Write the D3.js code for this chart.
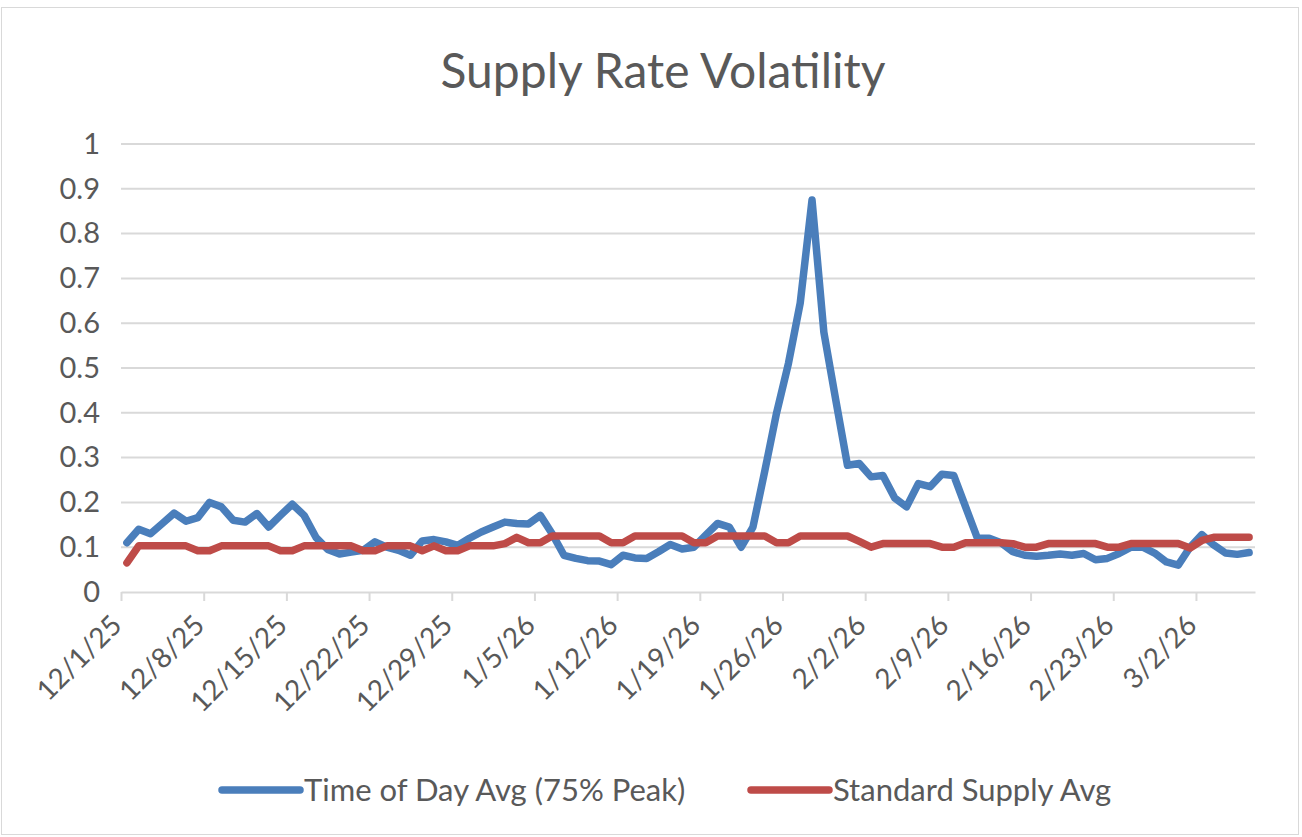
<!DOCTYPE html>
<html>
<head>
<meta charset="UTF-8">
<title>Supply Rate Volatility</title>
<style>
    body { margin: 0; background: #fff; }
    text { font-family: Lato, "Open Sans", sans-serif; fill: #595959; }
    .grid line { stroke: #d9d9d9; stroke-width: 2px; }
    .series { fill: none; stroke-width: 7.5px; stroke-linejoin: round; stroke-linecap: round; }
</style>
</head>
<body>
<svg id="chart" width="1302" height="837"></svg>
<script src="https://cdn.jsdelivr.net/npm/d3@7"></script>
<script>
    // one value per day, 12/1/25 .. 3/6/26
    var startDay = new Date(Date.UTC(2025, 11, 1)),
        endDay = new Date(Date.UTC(2026, 2, 7));

    var timeOfDayAvg = [
        0.11, 0.14, 0.13, 0.153, 0.176, 0.158, 0.166, 0.2, 0.19, 0.16,
        0.156, 0.175, 0.145, 0.171, 0.196, 0.171, 0.122, 0.095, 0.085, 0.089,
        0.093, 0.112, 0.1, 0.093, 0.082, 0.114, 0.117, 0.112, 0.104, 0.12,
        0.134, 0.145, 0.156, 0.153, 0.152, 0.171, 0.13, 0.082, 0.075, 0.07,
        0.069, 0.061, 0.082, 0.076, 0.075, 0.09, 0.106, 0.096, 0.1, 0.127,
        0.153, 0.145, 0.1, 0.145, 0.27, 0.4, 0.51, 0.645, 0.875, 0.58,
        0.43, 0.283, 0.287, 0.257, 0.26, 0.21, 0.19, 0.242, 0.235, 0.263,
        0.26, 0.19, 0.12, 0.12, 0.11, 0.09, 0.082, 0.08, 0.082, 0.085,
        0.082, 0.086, 0.072, 0.075, 0.086, 0.1, 0.1, 0.087, 0.067, 0.06,
        0.1, 0.128, 0.105, 0.087, 0.084, 0.088
    ];

    var standardSupplyAvg = [
        0.065, 0.103, 0.103, 0.103, 0.103, 0.103, 0.092, 0.092, 0.103, 0.103,
        0.103, 0.103, 0.103, 0.092, 0.092, 0.103, 0.103, 0.103, 0.103, 0.103,
        0.092, 0.092, 0.103, 0.103, 0.103, 0.092, 0.103, 0.092, 0.092, 0.103,
        0.103, 0.103, 0.108, 0.122, 0.11, 0.11, 0.125, 0.125, 0.125, 0.125,
        0.125, 0.11, 0.11, 0.125, 0.125, 0.125, 0.125, 0.125, 0.11, 0.11,
        0.125, 0.125, 0.125, 0.125, 0.125, 0.11, 0.11, 0.125, 0.125, 0.125,
        0.125, 0.125, 0.113, 0.1, 0.108, 0.108, 0.108, 0.108, 0.108, 0.1,
        0.1, 0.11, 0.11, 0.11, 0.11, 0.108, 0.1, 0.1, 0.108, 0.108,
        0.108, 0.108, 0.108, 0.1, 0.1, 0.108, 0.108, 0.108, 0.108, 0.108,
        0.098, 0.115, 0.122, 0.122, 0.122, 0.122
    ];

    var seriesNames = ["Time of Day Avg (75% Peak)", "Standard Supply Avg"],
        seriesColors = ["#4a7ebb", "#be4b48"],
        yTicks = [0, 0.1, 0.2, 0.3, 0.4, 0.5, 0.6, 0.7, 0.8, 0.9, 1];

    var svg = d3.select("#chart"),
        plotLeft = 121, plotRight = 1255, plotTop = 144, plotBottom = 592;

    var days = d3.utcDay.range(startDay, endDay);

    var x = d3.scaleUtc().domain([startDay, endDay]).range([plotLeft, plotRight]),
        y = d3.scaleLinear().domain([0, 1]).range([plotBottom, plotTop]);

    // outer chart border
    svg.append("rect")
        .attr("x", 1.5).attr("y", 7.5)
        .attr("width", 1297).attr("height", 827)
        .attr("fill", "#fff").attr("stroke", "#d9d9d9");

    svg.append("text")
        .attr("x", 663).attr("y", 88)
        .attr("text-anchor", "middle")
        .style("font-size", "48px")
        .text("Supply Rate Volatility");

    // gridlines
    svg.append("g").attr("class", "grid")
        .selectAll("line")
        .data(yTicks.slice(1))
        .enter().append("line")
        .attr("x1", plotLeft).attr("x2", plotRight)
        .attr("y1", function (d) { return y(d); })
        .attr("y2", function (d) { return y(d); });

    var yAxis = svg.append("g")
        .attr("transform", "translate(" + plotLeft + ",0)")
        .call(d3.axisLeft(y).tickValues(yTicks).tickSize(0).tickPadding(21)
            .tickFormat(d3.format(".1~f")));
    yAxis.select(".domain").remove();
    yAxis.selectAll("text").style("font-size", "29px").attr("font-family", null);

    var xAxis = svg.append("g")
        .attr("transform", "translate(0," + plotBottom + ")")
        .call(d3.axisBottom(x).tickValues(d3.utcMonday.range(startDay, endDay))
            .tickSize(9).tickSizeOuter(0)
            .tickFormat(d3.utcFormat("%-m/%-d/%y")));
    xAxis.select(".domain").attr("stroke", "#d9d9d9").attr("stroke-width", 2);
    xAxis.selectAll(".tick line").attr("stroke", "#d9d9d9").attr("stroke-width", 2);
    xAxis.selectAll("text")
        .style("font-size", "28px")
        .attr("font-family", null)
        .attr("text-anchor", "end")
        .attr("dy", null)
        .attr("y", 0)
        .attr("transform", "translate(2,35) rotate(-45)");

    // one line per series, points in the middle of each day
    var line = d3.line()
        .x(function (d) { return x(d3.utcHour.offset(d[0], 12)); })
        .y(function (d) { return y(d[1]); });

    [timeOfDayAvg, standardSupplyAvg].forEach(function (vals, i) {
        svg.append("path")
            .attr("class", "series")
            .attr("stroke", seriesColors[i])
            .attr("d", line(days.map(function (d, k) { return [d, vals[k]]; })));
    });

    // legend
    var legendX = [222, 751];
    var legend = svg.selectAll(".legend")
        .data(seriesNames)
        .enter().append("g")
        .attr("class", "legend")
        .attr("transform", function (d, i) { return "translate(" + legendX[i] + ",790)"; });
    legend.append("line")
        .attr("x1", 0).attr("x2", 78)
        .attr("stroke", function (d, i) { return seriesColors[i]; })
        .attr("stroke-width", 7.5).attr("stroke-linecap", "round");
    legend.append("text")
        .attr("x", 82).attr("y", 11)
        .style("font-size", "31px")
        .text(function (d) { return d; });
</script>
</body>
</html>
